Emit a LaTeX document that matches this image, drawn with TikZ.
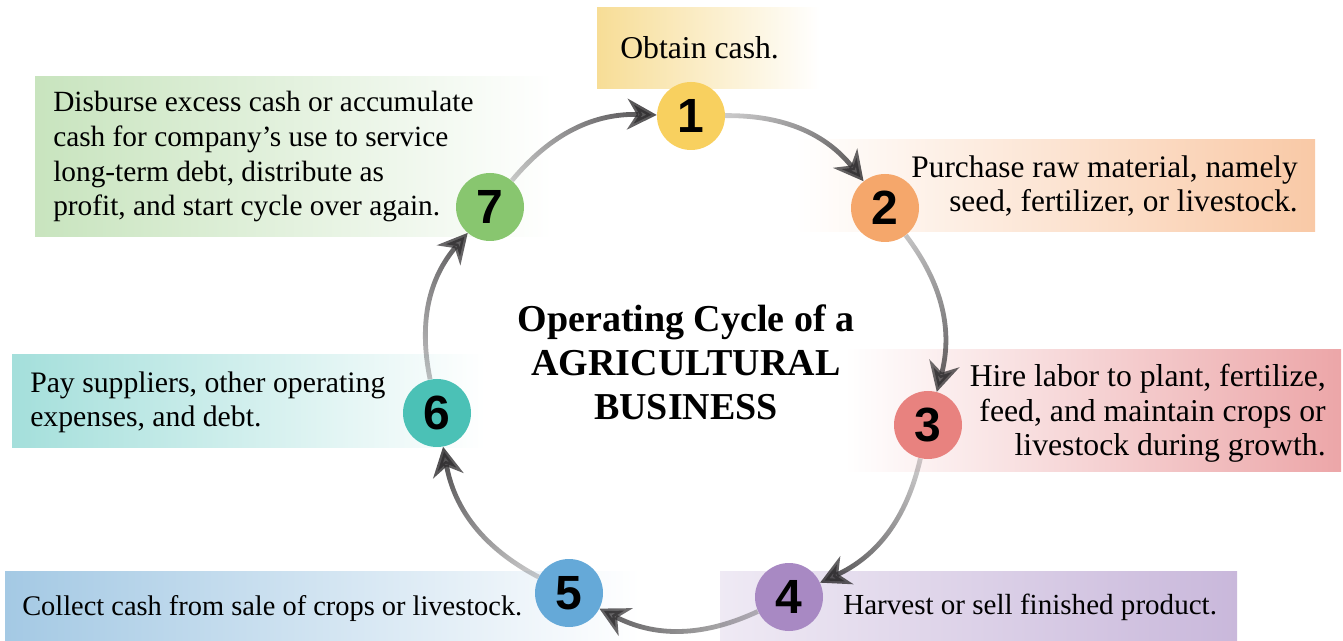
\documentclass[tikz,border=0pt]{standalone}
\usepackage{fontspec}
\setmainfont{Liberation Serif}
\newfontfamily\textserif{Liberation Serif}
\newfontfamily\digitfont{Liberation Sans}
\usetikzlibrary{arrows.meta,fadings,shadings}

\definecolor{c1}{HTML}{F8D05F}
\definecolor{c2}{HTML}{F5A76B}
\definecolor{c3}{HTML}{E8827F}
\definecolor{c4}{HTML}{A889C3}
\definecolor{c5}{HTML}{65A9D8}
\definecolor{c6}{HTML}{4BC1B6}
\definecolor{c7}{HTML}{88C66F}
\definecolor{b1}{HTML}{F7DD96}
\definecolor{b2}{HTML}{F9C9A6}
\definecolor{b3}{HTML}{ECA6A8}
\definecolor{b4}{HTML}{C9B8DB}
\definecolor{b5}{HTML}{A4C9E4}
\definecolor{b6}{HTML}{A4DFDB}
\definecolor{b7}{HTML}{C8E4BE}
\definecolor{arrowdark}{HTML}{2E2C2E}

\begin{tikzfadingfrompicture}[name=arcfade]
  \fill[transparent!92] (-300bp,-300bp) rectangle (-50bp,300bp);
  \shade[left color=transparent!92, right color=transparent!0] (-50bp,-300bp) rectangle (50bp,300bp);
  \fill[transparent!0] (50bp,-300bp) rectangle (300bp,300bp);
\end{tikzfadingfrompicture}

\tikzset{
  num/.style={circle, minimum size=51pt, inner sep=0pt,
    font=\digitfont\bfseries\fontsize{36}{36}\selectfont},
  txt/.style={inner sep=0pt, font=\textserif\fontsize{#1}{26}\selectfont},
  txt/.default=22.5,
  ttl/.style={inner sep=0pt, align=center, font=\textserif\bfseries\fontsize{28.5}{33}\selectfont},
  conn/.style={line width=3.6pt, draw=arrowdark, path fading=arcfade,
    -{Stealth[length=22pt, width=23pt, inset=7pt]}}
}

\begin{document}
\begin{tikzpicture}[x=0.75pt, y=-0.75pt]
\useasboundingbox (0,0) rectangle (1343,641);

% gradient boxes
\shade[left color=b1, right color=white] (597,8) rectangle (820,89);
\shade[left color=white, right color=b2] (795,140) rectangle (1315,232);
\shade[left color=white, right color=b3] (845,350) rectangle (1341,472);
\shade[left color=b4!30, right color=b4] (720,571) rectangle (1237,641);
\shade[left color=b5, right color=white] (5,571) rectangle (640,641);
\shade[left color=b6, right color=white] (12,355) rectangle (485,448);
\shade[left color=b7, right color=white] (35,77) rectangle (552,237);

% step circles
\node[num, fill=c1] (n1) at (691,116) {1};
\node[num, fill=c2] (n2) at (885,208) {2};
\node[num, fill=c3] (n3) at (928,425) {3};
\node[num, fill=c4] (n4) at (789,597) {4};
\node[num, fill=c5] (n5) at (569,593) {5};
\node[num, fill=c6] (n6) at (437,413) {6};
\node[num, fill=c7] (n7) at (490,207) {7};

% connectors
\draw[conn, fading angle=-25.4] (n1) to[bend left=26] (n2);
\draw[conn, fading angle=-78.8] (n2) to[bend left=26] (n3);
\draw[conn, fading angle=-128.9] (n3) to[bend left=26] (n4);
\draw[conn, fading angle=179] (n4) to[bend left=26] (n5);
\draw[conn, fading angle=126.3] (n5) to[bend left=26] (n6);
\draw[conn, fading angle=75.6] (n6) to[bend left=26] (n7);
\draw[conn, fading angle=24.4] (n7) to[bend left=26] (n1);

% texts (base anchor of a multi-line node = last line)
\node[txt=23.8, anchor=base west] (t1) at (620,59) {Obtain cash.};
\node[txt=23.5, anchor=base east, align=right] (t2) at (1298,212)
  {Purchase raw material, namely\\seed, fertilizer, or livestock.};
\node[txt=23.8, anchor=base east, align=right] (t3) at (1326,456)
  {Hire labor to plant, fertilize,\\feed, and maintain crops or\\livestock during growth.};
\node[txt=21.8, anchor=base west] (t4) at (843,614) {Harvest or sell finished product.};
\node[txt=21.3, anchor=base west] (t5) at (22,615) {Collect cash from sale of crops or livestock.};
\node[txt=22.3, anchor=base west, align=left] (t6) at (30,427)
  {Pay suppliers, other operating\\expenses, and debt.};
\node[txt=22, anchor=base west, align=left] (t7) at (53,216)
  {Disburse excess cash or accumulate\\cash for company’s use to service\\long-term debt, distribute as\\profit, and start cycle over again.};
\node[ttl, anchor=base] (title) at (686,420)
  {Operating Cycle of a\\AGRICULTURAL\\BUSINESS};
\end{tikzpicture}
\end{document}
